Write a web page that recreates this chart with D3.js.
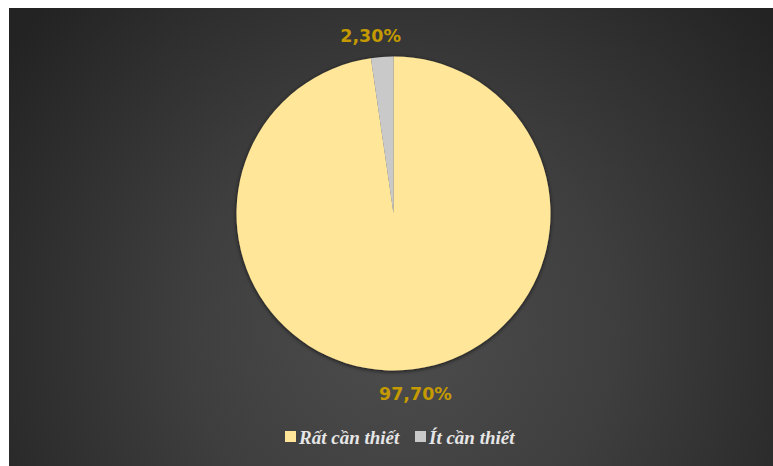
<!DOCTYPE html>
<html>
<head>
<meta charset="utf-8">
<script src="https://cdn.jsdelivr.net/npm/d3@7"></script>
<style>
html,body{margin:0;padding:0;background:#fff;}
svg{display:block;}
</style>
</head>
<body>
<svg id="chart" width="773" height="466"></svg>
<script>
const categories = ["Rất cần thiết", "Ít cần thiết"];
const values = [97.7, 2.3];
const labels = ["97,70%", "2,30%"];
const colors = ["#FFE699", "#C9C9C9"];

const W = 773, H = 466;
const svg = d3.select("#chart");
const defs = svg.append("defs");

const grad = defs.append("radialGradient").attr("id", "bg")
  .attr("gradientUnits", "userSpaceOnUse")
  .attr("cx", 400).attr("cy", 330).attr("r", 480);
grad.append("stop").attr("offset", "0%").attr("stop-color", "#4d4d4d");
grad.append("stop").attr("offset", "45%").attr("stop-color", "#3e3e3e");
grad.append("stop").attr("offset", "100%").attr("stop-color", "#232323");

const shadow = defs.append("filter").attr("id", "sh")
  .attr("x", "-20%").attr("y", "-20%").attr("width", "140%").attr("height", "140%");
shadow.append("feDropShadow").attr("dx", 0).attr("dy", 1).attr("stdDeviation", 2)
  .attr("flood-color", "#000").attr("flood-opacity", 0.7);

svg.append("rect").attr("x", 9).attr("y", 8).attr("width", W - 9).attr("height", H - 8)
  .attr("fill", "url(#bg)");

const cx = 393.5, cy = 213.5, R = 157;
const data = categories.map((c, i) => ({cat: c, value: values[i], label: labels[i], color: colors[i]}));
const pie = d3.pie().value(d => d.value).sort(null);
const arcs = pie(data);
const arc = d3.arc().innerRadius(0).outerRadius(R);

const g = svg.append("g").attr("transform", `translate(${cx},${cy})`);
g.append("g").attr("filter", "url(#sh)").selectAll("path").data(arcs).join("path")
  .attr("d", arc).attr("fill", d => d.data.color);

// data labels outside end (Excel-style placement offsets)
const labelR = d3.arc().innerRadius(R + 22).outerRadius(R + 22);
const labelShift = [[9, 2], [-10, 1]];
g.selectAll("text.lbl").data(arcs).join("text").attr("class", "lbl")
  .attr("x", (d, i) => labelR.centroid(d)[0] + labelShift[i][0])
  .attr("y", (d, i) => labelR.centroid(d)[1] + labelShift[i][1])
  .attr("text-anchor", "middle").attr("dominant-baseline", "central")
  .attr("font-family", "DejaVu Sans, Verdana, sans-serif")
  .attr("font-weight", "bold").attr("font-size", 17.5)
  .attr("fill", "#C49A00")
  .text(d => d.data.label);

// legend
const legend = svg.append("g").attr("transform", "translate(285,437)");
const items = [{x: 0}, {x: 130}];
data.forEach((d, i) => {
  const it = legend.append("g").attr("transform", `translate(${items[i].x},0)`);
  it.append("rect").attr("x", 0).attr("y", -6).attr("width", 11).attr("height", 11).attr("fill", d.color);
  it.append("text").attr("x", 14).attr("y", 0).attr("dominant-baseline", "central")
    .attr("font-family", "Liberation Serif, DejaVu Serif, serif")
    .attr("font-style", "italic").attr("font-weight", "bold").attr("font-size", 19)
    .attr("fill", "#E6E6E6").text(d.cat);
});
</script>
</body>
</html>
